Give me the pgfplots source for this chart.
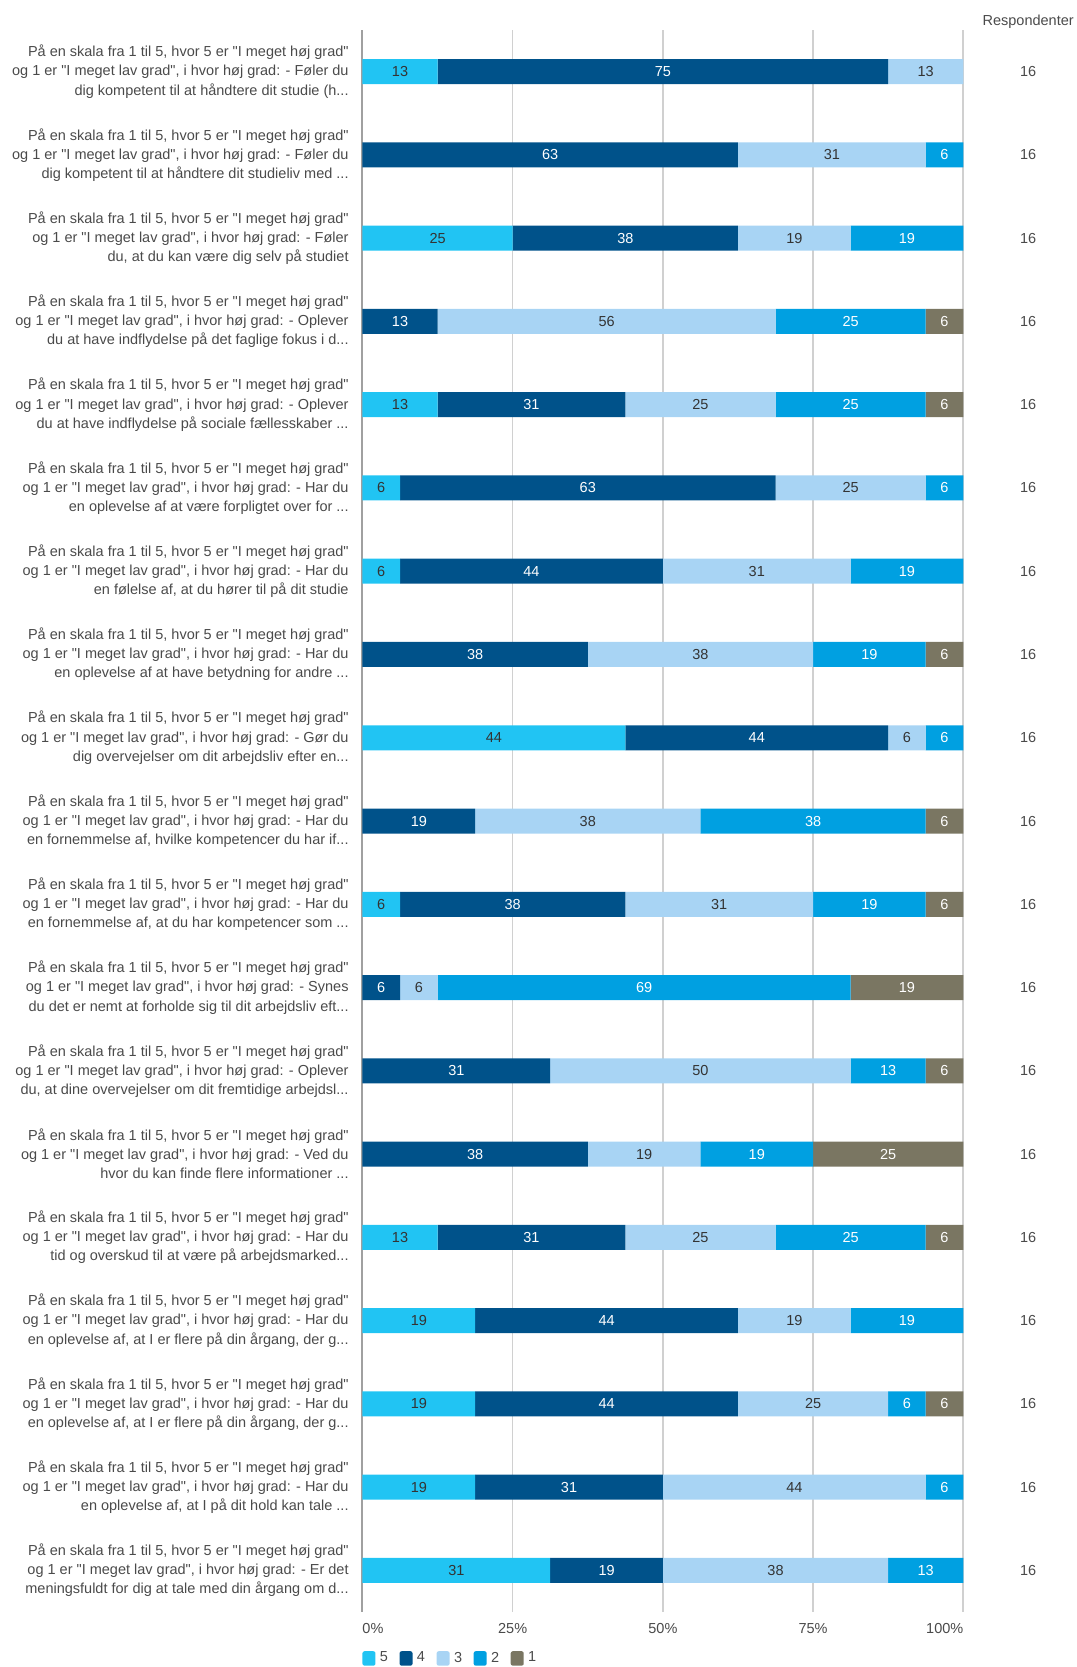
\documentclass[border=0pt]{standalone}
\usepackage{pgfplots}
\usepackage{pgfplotstable}
\pgfplotsset{compat=1.18}
\usepackage{fontspec}
\setmainfont{Liberation Sans}[Ligatures=TeXOff]
\definecolor{c5}{HTML}{21C4F3}
\definecolor{c4}{HTML}{00528A}
\definecolor{c3}{HTML}{A8D4F4}
\definecolor{c2}{HTML}{00A0E1}
\definecolor{c1}{HTML}{7A7662}
\definecolor{txt}{HTML}{4A4A4A}
\definecolor{gridc}{HTML}{D0D0D0}
\definecolor{axc}{HTML}{A0A0A0}
\newcommand\Q[2]{På en skala fra 1 til 5, hvor 5 er "I meget høj grad"\\og 1 er "I meget lav grad", i hvor høj grad: - #1\\#2}
\newcommand\fs{\fontsize{7.25}{9.57}\selectfont}
\pgfplotstableread{
y s5 s4 s3 s2 s1
0 12.5 75 12.5 0 0
1 0 62.5 31.25 6.25 0
2 25 37.5 18.75 18.75 0
3 0 12.5 56.25 25 6.25
4 12.5 31.25 25 25 6.25
5 6.25 62.5 25 6.25 0
6 6.25 43.75 31.25 18.75 0
7 0 37.5 37.5 18.75 6.25
8 43.75 43.75 6.25 6.25 0
9 0 18.75 37.5 37.5 6.25
10 6.25 37.5 31.25 18.75 6.25
11 0 6.25 6.25 68.75 18.75
12 0 31.25 50 12.5 6.25
13 0 37.5 18.75 18.75 25
14 12.5 31.25 25 25 6.25
15 18.75 43.75 18.75 18.75 0
16 18.75 43.75 25 6.25 6.25
17 18.75 31.25 43.75 6.25 0
18 31.25 18.75 37.5 12.5 0
}\data
\pgfplotsset{
  seg/.style n args={2}{
    fill=#2, draw=none,
    point meta=explicit,
    nodes near coords={\pgfmathfloatifflags{\pgfplotspointmeta}{0}{}{\pgfmathprintnumber{\pgfplotspointmeta}}},
    every node near coord/.append style={anchor=center, font=\fs},
    legend image code/.code={\fill[#2, rounded corners=1pt] (0pt,-3.6pt) rectangle (6.5pt,3.6pt);},
  }
}
\begin{document}
\begin{tikzpicture}
\begin{axis}[
  scale only axis,
  width=300.4pt, height=791pt,
  xbar stacked,
  bar width=12.5pt,
  xmin=0, xmax=100,
  ymin=-0.5, ymax=18.5,
  y dir=reverse,
  clip=false,
  axis line style={draw=none},
  xmajorgrids,
  grid style={gridc, line width=0.8pt},
  major tick length=0pt,
  xtick={0,25,50,75,100},
  xticklabels={\makebox[0pt][l]{0\%},25\%,50\%,75\%,\makebox[0pt][r]{100\%}},
  xticklabel style={font=\fs, text=txt, yshift=-2pt},
  extra x ticks={0},
  extra x tick labels={},
  extra x tick style={grid style={axc, line width=1pt}},
  ytick={0,...,18},
  yticklabels={
    {\Q{Føler du}{dig kompetent til at håndtere dit studie (h...}},
    {\Q{Føler du}{dig kompetent til at håndtere dit studieliv med ...}},
    {\Q{Føler}{du, at du kan være dig selv på studiet}},
    {\Q{Oplever}{du at have indflydelse på det faglige fokus i d...}},
    {\Q{Oplever}{du at have indflydelse på sociale fællesskaber ...}},
    {\Q{Har du}{en oplevelse af at være forpligtet over for ...}},
    {\Q{Har du}{en følelse af, at du hører til på dit studie}},
    {\Q{Har du}{en oplevelse af at have betydning for andre ...}},
    {\Q{Gør du}{dig overvejelser om dit arbejdsliv efter en...}},
    {\Q{Har du}{en fornemmelse af, hvilke kompetencer du har if...}},
    {\Q{Har du}{en fornemmelse af, at du har kompetencer som ...}},
    {\Q{Synes}{du det er nemt at forholde sig til dit arbejdsliv eft...}},
    {\Q{Oplever}{du, at dine overvejelser om dit fremtidige arbejdsl...}},
    {\Q{Ved du}{hvor du kan finde flere informationer ...}},
    {\Q{Har du}{tid og overskud til at være på arbejdsmarked...}},
    {\Q{Har du}{en oplevelse af, at I er flere på din årgang, der g...}},
    {\Q{Har du}{en oplevelse af, at I er flere på din årgang, der g...}},
    {\Q{Har du}{en oplevelse af, at I på dit hold kan tale ...}},
    {\Q{Er det}{meningsfuldt for dig at tale med din årgang om d...}},
  },
  yticklabel style={align=right, font=\fs, text=txt, inner sep=0pt, xshift=-6.75pt},
  /pgf/number format/.cd, fixed, precision=0, assume math mode=true, /pgfplots/.cd,
  legend columns=-1,
  legend style={draw=none, fill=none, at={(0,-0.0248)}, anchor=north west, inner sep=0pt, outer sep=0pt,
    font=\fs, text=txt, nodes={inner sep=0pt},
    /tikz/every odd column/.append style={column sep=2.2pt},
    /tikz/every even column/.append style={column sep=5.8pt}},
]
\addplot[seg={s5}{c5}, every node near coord/.append style={text=black!80}] table[x=s5, y=y, meta=s5]{\data};
\addplot[seg={s4}{c4}, every node near coord/.append style={text=white}] table[x=s4, y=y, meta=s4]{\data};
\addplot[seg={s3}{c3}, every node near coord/.append style={text=black!80}] table[x=s3, y=y, meta=s3]{\data};
\addplot[seg={s2}{c2}, every node near coord/.append style={text=white}] table[x=s2, y=y, meta=s2]{\data};
\addplot[seg={s1}{c1}, every node near coord/.append style={text=white}] table[x=s1, y=y, meta=s1]{\data};
\legend{5,4,3,2,1}
\node[font=\fs, text=txt] at (axis cs:110.8,-0.595) {Respondenter};
\pgfplotsinvokeforeach{0,...,18}{\node[font=\fs, text=txt] at (axis cs:110.8,#1) {16};}
\end{axis}
\pgfresetboundingbox
\path[use as bounding box] (-181.25pt,-27.5pt) rectangle (357.25pt,806pt);
\end{tikzpicture}
\end{document}
